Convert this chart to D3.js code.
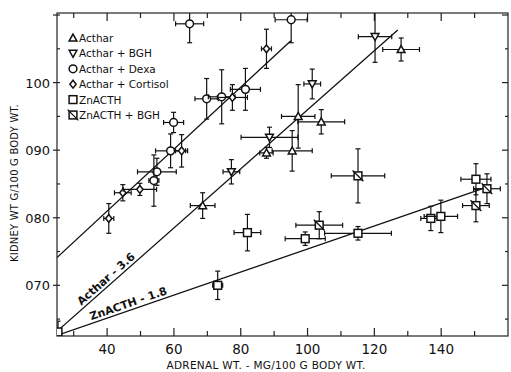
<!DOCTYPE html>
<html>
<head>
<meta charset="utf-8">
<script src="https://cdn.jsdelivr.net/npm/d3@7"></script>
<style>
  body { margin: 0; background: #fff; }
  text { font-family: "DejaVu Sans", sans-serif; fill: #111; }
</style>
</head>
<body>
<div id="chart"></div>
<script>
// each point: [adrenal wt, kidney wt, x error, y error]
var acthar = [
  [68.6, 0.818, 3.7, 0.019],
  [87.7, 0.896, 2.0, 0.008],
  [95.4, 0.899, 6.0, 0.030],
  [97.2, 0.950, 5.0, 0.047],
  [104.1, 0.942, 7.0, 0.018],
  [128.0, 1.049, 5.5, 0.017]
];
var actharBgh = [
  [77.2, 0.868, 2.5, 0.018],
  [88.6, 0.919, 8.5, 0.015],
  [101.4, 0.998, 2.5, 0.022],
  [120.2, 1.068, 5.0, 0.038]
];
var actharDexa = [
  [64.7, 1.087, 4.2, 0.028],
  [95.1, 1.093, 4.8, 0.034],
  [59.9, 0.941, 3.0, 0.015],
  [69.8, 0.976, 3.5, 0.030],
  [74.3, 0.979, 4.0, 0.040],
  [81.4, 0.990, 4.5, 0.031],
  [59.0, 0.899, 4.5, 0.025],
  [54.9, 0.868, 5.8, 0.020],
  [54.0, 0.855, 1.5, 0.038]
];
var actharCortisol = [
  [87.7, 1.050, 1.5, 0.029],
  [77.5, 0.978, 4.5, 0.019],
  [62.3, 0.899, 1.8, 0.024],
  [44.7, 0.837, 2.5, 0.012],
  [49.8, 0.842, 5.0, 0.009],
  [40.5, 0.799, 1.5, 0.022]
];
var znActh = [
  [25.3, 0.631, 0.6, 0.016],
  [73.1, 0.700, 1.5, 0.021],
  [82.0, 0.778, 4.0, 0.027],
  [99.3, 0.769, 6.0, 0.010],
  [115.1, 0.777, 10.0, 0.010],
  [136.9, 0.799, 3.0, 0.018],
  [139.9, 0.802, 5.0, 0.024],
  [150.4, 0.857, 4.5, 0.023]
];
var znActhBgh = [
  [103.5, 0.789, 7.0, 0.020],
  [115.1, 0.862, 8.0, 0.040],
  [153.7, 0.843, 4.0, 0.022],
  [150.4, 0.818, 4.0, 0.024]
];

// fitted lines (end points)
var lineDexa = [[25, 0.741], [95, 1.062]];
var lineActhar = [[25, 0.632], [127, 1.078]];
var lineZn = [[25, 0.626], [153.5, 0.845]];

var xTicks = [30, 40, 50, 60, 70, 80, 90, 100, 110, 120, 130, 140, 150];
var xLabels = [40, 60, 80, 100, 120, 140];
var yTicks = [0.65, 0.70, 0.75, 0.80, 0.85, 0.90, 0.95, 1.00, 1.05, 1.10];
var yLabels = [[0.70, "070"], [0.80, "080"], [0.90, "090"], [1.00, "100"]];

var legendNames = ["Acthar", "Acthar + BGH", "Acthar + Dexa", "Acthar + Cortisol", "ZnACTH", "ZnACTH + BGH"];
var legendShapes = ["up", "down", "circle", "diamond", "square", "xsquare"];

var width = 511, height = 372;
var pLeft = 57, pRight = 508, pTop = 13, pBottom = 336;

var x = d3.scaleLinear().domain([25, 160]).range([pLeft, pRight]);
var y = d3.scaleLinear().domain([0.625, 1.103]).range([pBottom, pTop]);

var svg = d3.select("#chart").append("svg")
  .attr("width", width).attr("height", height);

svg.append("defs").append("clipPath").attr("id", "plot")
  .append("rect").attr("x", pLeft).attr("y", pTop)
  .attr("width", pRight - pLeft).attr("height", pBottom - pTop);

// frame
svg.append("rect")
  .attr("x", pLeft).attr("y", pTop)
  .attr("width", pRight - pLeft).attr("height", pBottom - pTop)
  .attr("fill", "none").attr("stroke", "#222").attr("stroke-width", 1.2);

// ticks on all sides, pointing inward
xTicks.forEach(function (t) {
  var len = t % 20 == 0 ? 8 : 5;
  svg.append("line").attr("x1", x(t)).attr("x2", x(t))
    .attr("y1", pBottom).attr("y2", pBottom - len)
    .attr("stroke", "#222").attr("stroke-width", 1.2);
  svg.append("line").attr("x1", x(t)).attr("x2", x(t))
    .attr("y1", pTop).attr("y2", pTop + len)
    .attr("stroke", "#222").attr("stroke-width", 1.2);
});
yTicks.forEach(function (t) {
  var major = Math.round(t * 100) % 10 == 0;
  svg.append("line").attr("x1", major ? pLeft - 4 : pLeft).attr("x2", pLeft + 3)
    .attr("y1", y(t)).attr("y2", y(t))
    .attr("stroke", "#222").attr("stroke-width", 1.2);
  svg.append("line").attr("x1", pRight).attr("x2", pRight - (major ? 6 : 3))
    .attr("y1", y(t)).attr("y2", y(t))
    .attr("stroke", "#222").attr("stroke-width", 1.2);
});

svg.selectAll(".xl").data(xLabels).enter().append("text")
  .attr("x", function (d) { return x(d); })
  .attr("y", 354).attr("text-anchor", "middle")
  .style("font-size", "13.5px").text(function (d) { return d; });

svg.selectAll(".yl").data(yLabels).enter().append("text")
  .attr("x", 50).attr("y", function (d) { return y(d[0]) + 5; })
  .attr("text-anchor", "end").style("font-size", "13px")
  .text(function (d) { return d[1]; });

svg.append("text").attr("x", 266).attr("y", 369)
  .attr("text-anchor", "middle").style("font-size", "10.5px")
  .style("letter-spacing", "0.3px")
  .text("ADRENAL WT. - MG/100 G BODY WT.");

svg.append("text")
  .attr("transform", "translate(18,183) rotate(-90)")
  .attr("text-anchor", "middle").style("font-size", "10px")
  .style("letter-spacing", "0.2px")
  .text("KIDNEY WT G/100 G BODY WT.");

var plot = svg.append("g").attr("clip-path", "url(#plot)");

var line = d3.line().x(function (d) { return x(d[0]); }).y(function (d) { return y(d[1]); });
[lineDexa, lineActhar, lineZn].forEach(function (l) {
  plot.append("path").attr("d", line(l))
    .attr("fill", "none").attr("stroke", "#111").attr("stroke-width", 1.3);
});

// line labels
function lineLabel(l, at, txt, off) {
  var px0 = x(l[0][0]), py0 = y(l[0][1]), px1 = x(l[1][0]), py1 = y(l[1][1]);
  var ang = Math.atan2(py1 - py0, px1 - px0) * 180 / Math.PI;
  var t = (at - l[0][0]) / (l[1][0] - l[0][0]);
  var cx = px0 + t * (px1 - px0), cy = py0 + t * (py1 - py0);
  svg.append("text")
    .attr("transform", "translate(" + cx + "," + cy + ") rotate(" + ang + ")")
    .attr("y", off).attr("text-anchor", "middle")
    .style("font-size", "11px").style("font-weight", "bold")
    .text(txt);
}
lineLabel(lineActhar, 41, "Acthar - 3.6", -3);
lineLabel(lineZn, 47, "ZnACTH - 1.8", -3);

function symbol(g, shape, cx, cy) {
  var s = 3.9;
  var el;
  if (shape == "circle") {
    el = g.append("circle").attr("cx", cx).attr("cy", cy).attr("r", s);
  } else if (shape == "square" || shape == "xsquare") {
    el = g.append("rect").attr("x", cx - s).attr("y", cy - s)
      .attr("width", 2 * s).attr("height", 2 * s);
  } else if (shape == "diamond") {
    el = g.append("path").attr("d", "M" + cx + "," + (cy - s) + "L" + (cx + s * 0.8) + "," + cy +
      "L" + cx + "," + (cy + s) + "L" + (cx - s * 0.8) + "," + cy + "Z");
  } else if (shape == "up") {
    el = g.append("path").attr("d", "M" + cx + "," + (cy - s) + "L" + (cx + s) + "," + (cy + s * 0.8) +
      "L" + (cx - s) + "," + (cy + s * 0.8) + "Z");
  } else {
    el = g.append("path").attr("d", "M" + cx + "," + (cy + s) + "L" + (cx + s) + "," + (cy - s * 0.8) +
      "L" + (cx - s) + "," + (cy - s * 0.8) + "Z");
  }
  el.attr("fill", "#fff").attr("stroke", "#111").attr("stroke-width", 1.5);
  if (shape == "xsquare") {
    g.append("path").attr("d", "M" + (cx - s - 1.5) + "," + (cy - s - 1.5) + "L" + (cx + s + 1.5) + "," + (cy + s + 1.5))
      .attr("stroke", "#111").attr("stroke-width", 1.3);
  }
}

var series = [acthar, actharBgh, actharDexa, actharCortisol, znActh, znActhBgh];
series.forEach(function (pts, i) {
  pts.forEach(function (p) {
    var cx = x(p[0]), cy = y(p[1]);
    var x0 = x(p[0] - p[2]), x1 = x(p[0] + p[2]);
    var y0 = y(p[1] - p[3]), y1 = y(p[1] + p[3]);
    var g = plot.append("g").attr("stroke", "#111").attr("stroke-width", 1.2);
    g.append("line").attr("x1", x0).attr("x2", x1).attr("y1", cy).attr("y2", cy);
    g.append("line").attr("x1", cx).attr("x2", cx).attr("y1", y0).attr("y2", y1);
    g.append("line").attr("x1", x0).attr("x2", x0).attr("y1", cy - 2.5).attr("y2", cy + 2.5);
    g.append("line").attr("x1", x1).attr("x2", x1).attr("y1", cy - 2.5).attr("y2", cy + 2.5);
    g.append("line").attr("x1", cx - 2.5).attr("x2", cx + 2.5).attr("y1", y0).attr("y2", y0);
    g.append("line").attr("x1", cx - 2.5).attr("x2", cx + 2.5).attr("y1", y1).attr("y2", y1);
    symbol(g, legendShapes[i], cx, cy);
  });
});

// legend
var leg = svg.append("g");
legendNames.forEach(function (n, i) {
  var ly = 42 + i * 15.4;
  var g = leg.append("g");
  symbol(g, legendShapes[i], 73, ly - 4);
  g.append("text").attr("x", 79).attr("y", ly).style("font-size", "10.5px").text(n);
});
</script>
</body>
</html>
